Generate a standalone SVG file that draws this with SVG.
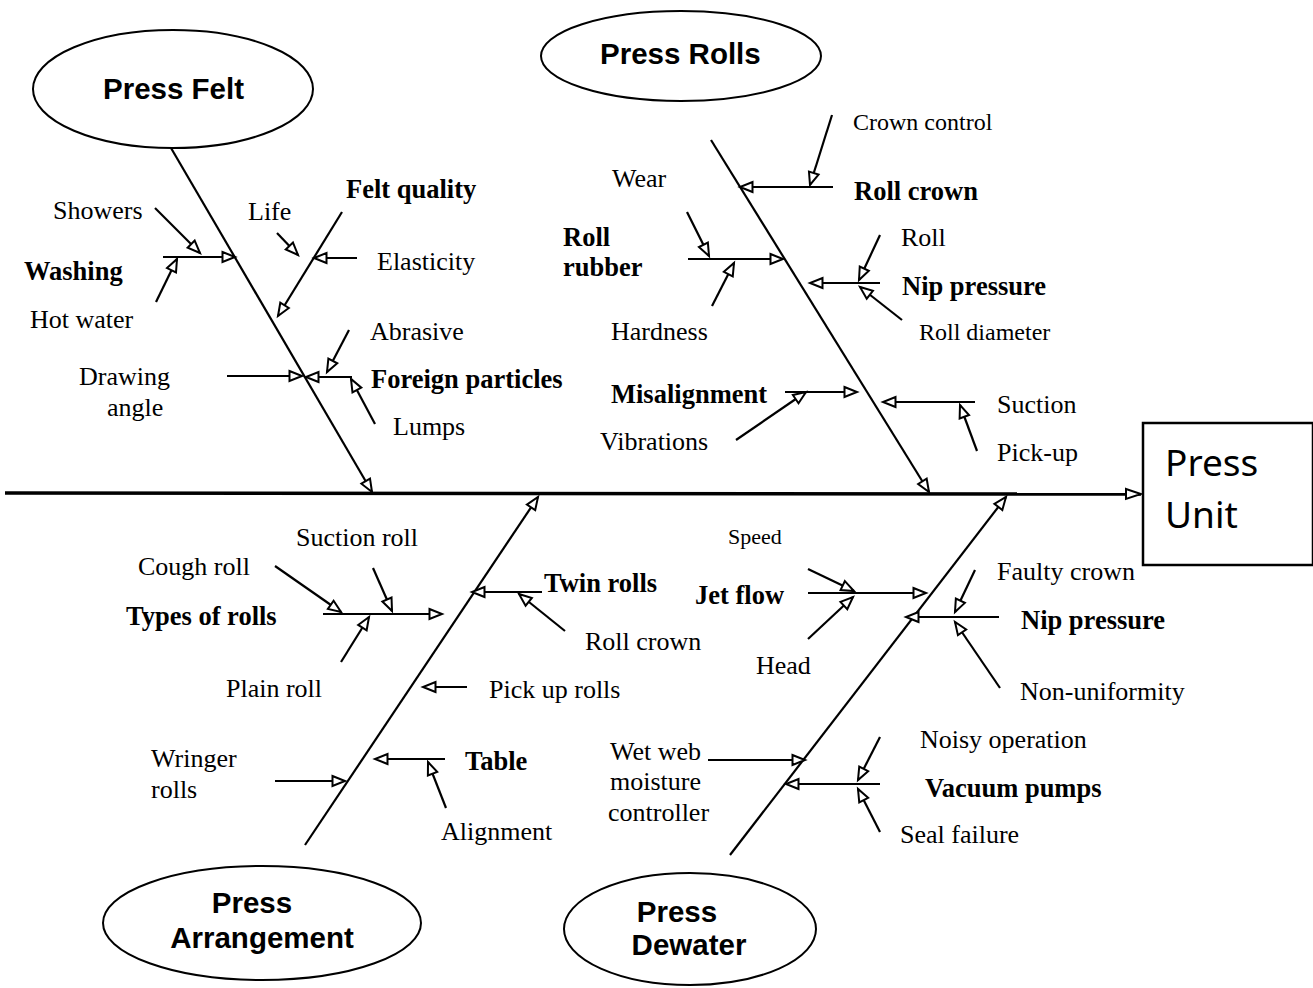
<svg xmlns="http://www.w3.org/2000/svg" width="1313" height="988" viewBox="0 0 1313 988">
  <style>
    .bg { fill: #fff; }
    .oval { fill: #fff; stroke: #000; stroke-width: 2; }
    .box { fill: #fff; stroke: #000; stroke-width: 2.5; }
    .spine { stroke: #000; stroke-width: 3.5; fill: none; marker-end: url(#big); }
    .bone { stroke: #000; stroke-width: 2.2; fill: none; marker-end: url(#ah); }
    .ln { stroke: #000; stroke-width: 2.2; fill: none; marker-end: url(#ah); }
    .t { font-family: "Liberation Serif", "Times New Roman", serif; font-size: 26px; fill: #000; }
    .s { font-size: 24px; }
    .xs { font-size: 22px; }
    .b { font-weight: bold; font-size: 26.5px; }
    .h { font-family: "Liberation Sans", Arial, sans-serif; font-weight: bold; font-size: 29.5px; fill: #000; }
    .u { font-family: "Noto Sans", "Open Sans", sans-serif; font-size: 37px; fill: #000; }
  </style>
  <defs>
    <marker id="ah" markerUnits="userSpaceOnUse" markerWidth="17" markerHeight="15" refX="14" refY="7.5" orient="auto">
      <path d="M1.5,2.5 L14,7.5 L1.5,12.5 Z" fill="#fff" stroke="#000" stroke-width="2"/>
    </marker>
    <marker id="big" markerUnits="userSpaceOnUse" markerWidth="20" markerHeight="16" refX="17" refY="8" orient="auto">
      <path d="M2,3 L17,8 L2,13 Z" fill="#fff" stroke="#000" stroke-width="2"/>
    </marker>
  </defs>

  <rect class="bg" x="0" y="0" width="1313" height="988"/>

  <!-- cause categories -->
  <g id="press-felt">
    <ellipse class="oval" cx="173" cy="89" rx="140" ry="59"/>
    <text class="h" x="103" y="99">Press Felt</text>
  </g>
  <g id="press-rolls">
    <ellipse class="oval" cx="681" cy="56" rx="140" ry="45"/>
    <text class="h" x="600" y="64">Press Rolls</text>
  </g>
  <g id="press-arrangement">
    <ellipse class="oval" cx="262" cy="923" rx="159" ry="57"/>
    <text class="h" x="252" y="913" text-anchor="middle">Press</text>
    <text class="h" x="262" y="948" text-anchor="middle">Arrangement</text>
  </g>
  <g id="press-dewater">
    <ellipse class="oval" cx="690" cy="929" rx="126" ry="56"/>
    <text class="h" x="677" y="922" text-anchor="middle">Press</text>
    <text class="h" x="689" y="955" text-anchor="middle">Dewater</text>
  </g>

  <!-- effect -->
  <g id="press-unit">
    <rect class="box" x="1143" y="423" width="170" height="142"/>
    <text class="u" x="1165" y="476">Press</text>
    <text class="u" x="1165" y="528">Unit</text>
  </g>

  <!-- connectors -->
  <g id="connectors">
    <line class="spine" x1="5" y1="493" x2="1141" y2="494"/>

    <!-- Press Felt -->
    <line class="bone" x1="171" y1="148" x2="372" y2="492"/>
    <line class="ln" x1="163" y1="257" x2="235" y2="257"/>
    <line class="ln" x1="155" y1="208" x2="200" y2="253"/>
    <line class="ln" x1="156" y1="302" x2="177" y2="259"/>
    <line class="ln" x1="277" y1="233" x2="298" y2="255"/>
    <line class="ln" x1="342" y1="212" x2="278" y2="316"/>
    <line class="ln" x1="357" y1="258" x2="314" y2="258"/>
    <line class="ln" x1="349" y1="330" x2="327" y2="372"/>
    <line class="ln" x1="227" y1="376" x2="302" y2="376"/>
    <line class="ln" x1="352" y1="377" x2="306" y2="377"/>
    <line class="ln" x1="375" y1="424" x2="351" y2="379"/>

    <!-- Press Rolls -->
    <line class="bone" x1="711" y1="140" x2="929" y2="492"/>
    <line class="ln" x1="833" y1="187" x2="740" y2="187"/>
    <line class="ln" x1="832" y1="115" x2="810" y2="185"/>
    <line class="ln" x1="688" y1="259" x2="783" y2="259"/>
    <line class="ln" x1="687" y1="212" x2="709" y2="256"/>
    <line class="ln" x1="712" y1="306" x2="734" y2="263"/>
    <line class="ln" x1="880" y1="283" x2="810" y2="283"/>
    <line class="ln" x1="880" y1="235" x2="859" y2="280"/>
    <line class="ln" x1="902" y1="320" x2="860" y2="287"/>
    <line class="ln" x1="785" y1="392" x2="857" y2="392"/>
    <line class="ln" x1="736" y1="440" x2="806" y2="392"/>
    <line class="ln" x1="975" y1="402" x2="883" y2="402"/>
    <line class="ln" x1="977" y1="451" x2="960" y2="405"/>

    <!-- Press Arrangement -->
    <line class="bone" x1="305" y1="845" x2="538" y2="497"/>
    <line class="ln" x1="323" y1="614" x2="442" y2="614"/>
    <line class="ln" x1="275" y1="566" x2="341" y2="612"/>
    <line class="ln" x1="373" y1="568" x2="392" y2="611"/>
    <line class="ln" x1="341" y1="662" x2="369" y2="617"/>
    <line class="ln" x1="542" y1="592" x2="472" y2="592"/>
    <line class="ln" x1="565" y1="631" x2="519" y2="594"/>
    <line class="ln" x1="467" y1="687" x2="423" y2="687"/>
    <line class="ln" x1="445" y1="759" x2="375" y2="759"/>
    <line class="ln" x1="446" y1="808" x2="428" y2="762"/>
    <line class="ln" x1="275" y1="781" x2="345" y2="781"/>

    <!-- Press Dewater -->
    <line class="bone" x1="730" y1="855" x2="1006" y2="497"/>
    <line class="ln" x1="808" y1="593" x2="926" y2="593"/>
    <line class="ln" x1="808" y1="569" x2="854" y2="591"/>
    <line class="ln" x1="808" y1="639" x2="853" y2="597"/>
    <line class="ln" x1="999" y1="617" x2="906" y2="617"/>
    <line class="ln" x1="975" y1="570" x2="955" y2="612"/>
    <line class="ln" x1="1000" y1="688" x2="955" y2="622"/>
    <line class="ln" x1="708" y1="760" x2="805" y2="760"/>
    <line class="ln" x1="880" y1="784" x2="786" y2="784"/>
    <line class="ln" x1="880" y1="737" x2="858" y2="780"/>
    <line class="ln" x1="880" y1="832" x2="858" y2="789"/>
  </g>

  <!-- sub-cause labels -->
  <g id="felt-labels">
    <text class="t" x="53" y="219">Showers</text>
    <text class="t" x="248" y="220">Life</text>
    <text class="t b" x="346" y="198">Felt quality</text>
    <text class="t b" x="24" y="280">Washing</text>
    <text class="t" x="377" y="270">Elasticity</text>
    <text class="t" x="30" y="328">Hot water</text>
    <text class="t" x="370" y="340">Abrasive</text>
    <text class="t" x="79" y="385">Drawing</text>
    <text class="t" x="107" y="416">angle</text>
    <text class="t b" x="371" y="388">Foreign particles</text>
    <text class="t" x="393" y="435">Lumps</text>
  </g>
  <g id="rolls-labels">
    <text class="t s" x="853" y="130">Crown control</text>
    <text class="t" x="612" y="187">Wear</text>
    <text class="t b" x="854" y="200">Roll crown</text>
    <text class="t b" x="563" y="246">Roll</text>
    <text class="t b" x="563" y="276">rubber</text>
    <text class="t" x="901" y="246">Roll</text>
    <text class="t b" x="902" y="295">Nip pressure</text>
    <text class="t" x="611" y="340">Hardness</text>
    <text class="t s" x="919" y="340">Roll diameter</text>
    <text class="t b" x="611" y="403">Misalignment</text>
    <text class="t" x="997" y="413">Suction</text>
    <text class="t" x="600" y="450">Vibrations</text>
    <text class="t" x="997" y="461">Pick-up</text>
  </g>
  <g id="arrangement-labels">
    <text class="t" x="296" y="546">Suction roll</text>
    <text class="t" x="138" y="575">Cough roll</text>
    <text class="t b" x="544" y="592">Twin rolls</text>
    <text class="t b" x="126" y="625">Types of rolls</text>
    <text class="t" x="585" y="650">Roll crown</text>
    <text class="t" x="226" y="697">Plain roll</text>
    <text class="t" x="489" y="698">Pick up rolls</text>
    <text class="t" x="151" y="767">Wringer</text>
    <text class="t" x="151" y="798">rolls</text>
    <text class="t b" x="465" y="770">Table</text>
    <text class="t" x="441" y="840">Alignment</text>
  </g>
  <g id="dewater-labels">
    <text class="t xs" x="728" y="544">Speed</text>
    <text class="t" x="997" y="580">Faulty crown</text>
    <text class="t b" x="695" y="604">Jet flow</text>
    <text class="t b" x="1021" y="629">Nip pressure</text>
    <text class="t" x="756" y="674">Head</text>
    <text class="t" x="1020" y="700">Non-uniformity</text>
    <text class="t" x="920" y="748">Noisy operation</text>
    <text class="t" x="610" y="760">Wet web</text>
    <text class="t" x="610" y="790">moisture</text>
    <text class="t" x="608" y="821">controller</text>
    <text class="t b" x="925" y="797">Vacuum pumps</text>
    <text class="t" x="900" y="843">Seal failure</text>
  </g>
</svg>
